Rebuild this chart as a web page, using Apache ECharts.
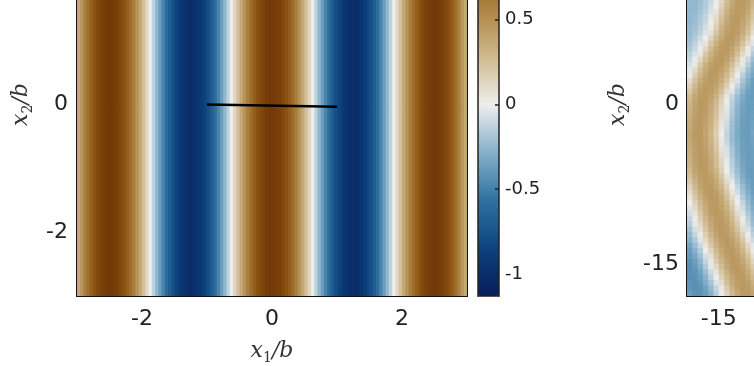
<!DOCTYPE html>
<html><head><meta charset="utf-8">
<script src="https://cdn.jsdelivr.net/npm/echarts@6/dist/echarts.min.js"></script>
<style>
html,body{margin:0;padding:0;width:754px;height:366px;overflow:hidden;background:#fff}
#c{position:absolute;left:0;top:-87px;width:754px;height:453px}
</style>
</head><body><div id="c"></div>
<script>
// ---------- data ----------
const leftCellWidth = 0.05;          // x1/b cell width of the left field
const leftXStart = -2.975;           // first cell centre
// row bands of the left field: [upper edge, lower edge] in x2/b
const leftBands = [[3, 0], [0, -3]];
const leftTopRow = [
 0.37,0.48,0.59,0.69,0.77,0.84,0.90,0.95,0.98,1.00,
 1.00,0.98,0.95,0.90,0.84,0.77,0.69,0.59,0.48,0.37,
 0.25,0.13,0.00,-0.13,-0.25,-0.37,-0.48,-0.59,-0.69,-0.77,
 -0.84,-0.90,-0.95,-0.98,-1.00,-1.00,-0.98,-0.95,-0.90,-0.84,
 -0.77,-0.69,-0.59,-0.48,-0.37,-0.25,-0.13,0.00,0.13,0.25,
 0.37,0.48,0.59,0.69,0.77,0.84,0.90,0.95,0.98,1.00,
 1.00,0.98,0.95,0.90,0.84,0.77,0.69,0.59,0.48,0.37,
 0.25,0.13,0.00,-0.13,-0.25,-0.37,-0.48,-0.59,-0.69,-0.77,
 -0.84,-0.90,-0.95,-0.98,-1.00,-1.00,-0.98,-0.95,-0.90,-0.84,
 -0.77,-0.69,-0.59,-0.48,-0.37,-0.25,-0.13,0.00,0.13,0.25,
 0.37,0.48,0.59,0.69,0.77,0.84,0.90,0.95,0.98,1.00,
 1.00,0.98,0.95,0.90,0.84,0.77,0.69,0.59,0.48,0.37
];
const leftBottomRow = [
 0.37,0.48,0.59,0.69,0.77,0.84,0.90,0.95,0.98,1.00,
 1.00,0.98,0.95,0.90,0.84,0.77,0.69,0.59,0.48,0.37,
 0.25,0.13,0.00,-0.13,-0.25,-0.37,-0.48,-0.59,-0.69,-0.77,
 -0.84,-0.90,-0.95,-0.98,-1.00,-1.00,-0.98,-0.95,-0.90,-0.84,
 -0.77,-0.69,-0.59,-0.48,-0.37,-0.25,-0.13,0.00,0.13,0.25,
 0.37,0.48,0.59,0.69,0.77,0.84,0.90,0.95,0.98,1.00,
 1.00,0.98,0.95,0.90,0.84,0.77,0.69,0.59,0.48,0.37,
 0.25,0.13,0.00,-0.13,-0.25,-0.37,-0.48,-0.59,-0.69,-0.77,
 -0.84,-0.90,-0.95,-0.98,-1.00,-1.00,-0.98,-0.95,-0.90,-0.84,
 -0.77,-0.69,-0.59,-0.48,-0.37,-0.25,-0.13,0.00,0.13,0.25,
 0.37,0.48,0.59,0.69,0.77,0.84,0.90,0.95,0.98,1.00,
 1.00,0.98,0.95,0.90,0.84,0.77,0.69,0.59,0.48,0.37
];
const crackLine = [[-1, 0.0], [1, -0.035]];

const rightCellSize = 0.5;
const rightXCenters = [-17.75,-17.25,-16.75,-16.25,-15.75,-15.25,-14.75,-14.25,-13.75,-13.25,-12.75,-12.25,-11.75];
const rightYCenters = [9.75,9.25,8.75,8.25,7.75,7.25,6.75,6.25,5.75,5.25,4.75,4.25,3.75,3.25,2.75,2.25,1.75,1.25,
  0.75,0.25,-0.25,-0.75,-1.25,-1.75,-2.25,-2.75,-3.25,-3.75,-4.25,-4.75,-5.25,-5.75,-6.25,-6.75,-7.25,-7.75,
  -8.25,-8.75,-9.25,-9.75,-10.25,-10.75,-11.25,-11.75,-12.25,-12.75,-13.25,-13.75,-14.25,-14.75,-15.25,-15.75,
  -16.25,-16.75,-17.25,-17.75];
const rightValues = [
 [-0.24,-0.25,-0.22,-0.17,-0.10,-0.02,0.12,0.26,0.37,0.43,0.45,0.41,0.32],
 [-0.25,-0.25,-0.21,-0.16,-0.08,0.01,0.16,0.29,0.39,0.44,0.44,0.39,0.29],
 [-0.25,-0.24,-0.20,-0.14,-0.06,0.05,0.20,0.32,0.41,0.45,0.43,0.37,0.25],
 [-0.25,-0.23,-0.18,-0.12,-0.03,0.09,0.24,0.35,0.43,0.45,0.42,0.34,0.22],
 [-0.25,-0.22,-0.17,-0.10,-0.01,0.13,0.27,0.38,0.44,0.45,0.40,0.31,0.18],
 [-0.24,-0.21,-0.15,-0.07,0.02,0.17,0.31,0.40,0.45,0.44,0.38,0.28,0.14],
 [-0.24,-0.19,-0.13,-0.05,0.07,0.21,0.34,0.42,0.45,0.43,0.36,0.24,0.10],
 [-0.22,-0.17,-0.09,-0.01,0.14,0.28,0.38,0.44,0.45,0.40,0.31,0.17,0.02],
 [-0.20,-0.13,-0.05,0.06,0.21,0.33,0.42,0.45,0.43,0.36,0.25,0.11,-0.04],
 [-0.17,-0.10,-0.01,0.13,0.27,0.38,0.44,0.45,0.40,0.31,0.18,0.03,-0.10],
 [-0.14,-0.06,0.05,0.20,0.32,0.41,0.45,0.43,0.37,0.25,0.11,-0.03,-0.16],
 [-0.10,-0.02,0.12,0.26,0.37,0.44,0.45,0.41,0.32,0.19,0.04,-0.10,-0.22],
 [-0.06,0.04,0.19,0.32,0.41,0.45,0.44,0.37,0.26,0.12,-0.03,-0.15,-0.27],
 [-0.03,0.11,0.25,0.36,0.43,0.45,0.41,0.33,0.20,0.06,-0.08,-0.21,-0.30],
 [0.02,0.17,0.30,0.40,0.45,0.44,0.38,0.28,0.15,-0.01,-0.14,-0.25,-0.33],
 [0.09,0.23,0.35,0.42,0.45,0.42,0.34,0.23,0.08,-0.06,-0.19,-0.29,-0.36],
 [0.15,0.28,0.39,0.44,0.44,0.40,0.30,0.17,0.02,-0.12,-0.23,-0.32,-0.37],
 [0.21,0.33,0.42,0.45,0.43,0.36,0.25,0.10,-0.04,-0.17,-0.27,-0.35,-0.38],
 [0.27,0.37,0.44,0.45,0.41,0.32,0.19,0.04,-0.10,-0.22,-0.31,-0.37,-0.38],
 [0.30,0.40,0.45,0.44,0.38,0.28,0.15,-0.01,-0.14,-0.25,-0.33,-0.37,-0.37],
 [0.32,0.41,0.45,0.44,0.37,0.26,0.12,-0.03,-0.15,-0.27,-0.34,-0.38,-0.37],
 [0.33,0.42,0.45,0.43,0.36,0.25,0.10,-0.04,-0.17,-0.27,-0.35,-0.38,-0.36],
 [0.35,0.42,0.45,0.42,0.34,0.23,0.08,-0.06,-0.19,-0.29,-0.36,-0.38,-0.36],
 [0.36,0.43,0.45,0.41,0.33,0.20,0.06,-0.08,-0.21,-0.30,-0.36,-0.38,-0.35],
 [0.37,0.44,0.45,0.40,0.31,0.18,0.04,-0.10,-0.22,-0.31,-0.37,-0.38,-0.35],
 [0.39,0.44,0.45,0.39,0.30,0.16,0.01,-0.12,-0.23,-0.32,-0.37,-0.38,-0.33],
 [0.38,0.44,0.45,0.40,0.31,0.18,0.03,-0.11,-0.23,-0.31,-0.37,-0.38,-0.35],
 [0.36,0.43,0.45,0.41,0.32,0.20,0.05,-0.09,-0.21,-0.30,-0.36,-0.38,-0.35],
 [0.35,0.42,0.45,0.42,0.34,0.22,0.07,-0.06,-0.19,-0.29,-0.36,-0.38,-0.36],
 [0.34,0.42,0.45,0.43,0.35,0.24,0.09,-0.05,-0.18,-0.28,-0.35,-0.38,-0.36],
 [0.32,0.41,0.45,0.44,0.37,0.26,0.12,-0.03,-0.15,-0.27,-0.34,-0.38,-0.37],
 [0.31,0.40,0.45,0.44,0.38,0.27,0.14,-0.01,-0.14,-0.25,-0.33,-0.37,-0.37],
 [0.29,0.39,0.44,0.45,0.39,0.30,0.16,0.01,-0.12,-0.23,-0.32,-0.37,-0.38],
 [0.24,0.36,0.43,0.45,0.42,0.33,0.21,0.06,-0.08,-0.20,-0.30,-0.36,-0.38],
 [0.20,0.32,0.41,0.45,0.43,0.37,0.25,0.11,-0.03,-0.16,-0.27,-0.34,-0.38],
 [0.15,0.29,0.39,0.44,0.45,0.39,0.30,0.16,0.01,-0.12,-0.23,-0.32,-0.37],
 [0.10,0.24,0.36,0.43,0.45,0.42,0.33,0.21,0.06,-0.08,-0.20,-0.30,-0.36],
 [0.05,0.20,0.32,0.41,0.45,0.43,0.37,0.25,0.11,-0.03,-0.16,-0.27,-0.34],
 [0.00,0.15,0.29,0.39,0.44,0.44,0.39,0.30,0.16,0.01,-0.12,-0.24,-0.32],
 [-0.04,0.11,0.25,0.36,0.43,0.45,0.41,0.33,0.20,0.06,-0.08,-0.21,-0.30],
 [-0.08,0.06,0.21,0.33,0.42,0.45,0.43,0.36,0.25,0.10,-0.04,-0.17,-0.27],
 [-0.12,0.02,0.17,0.30,0.40,0.44,0.44,0.39,0.28,0.15,-0.01,-0.13,-0.25],
 [-0.15,-0.03,0.12,0.26,0.37,0.44,0.45,0.41,0.32,0.19,0.04,-0.10,-0.22],
 [-0.20,-0.07,0.08,0.22,0.34,0.42,0.45,0.43,0.35,0.23,0.09,-0.06,-0.18],
 [-0.24,-0.12,0.02,0.17,0.30,0.40,0.45,0.44,0.38,0.28,0.15,-0.01,-0.14],
 [-0.28,-0.17,-0.04,0.11,0.25,0.36,0.43,0.45,0.41,0.33,0.20,0.05,-0.09],
 [-0.33,-0.23,-0.10,0.05,0.20,0.32,0.41,0.45,0.43,0.37,0.26,0.12,-0.03],
 [-0.37,-0.28,-0.16,-0.01,0.14,0.28,0.38,0.44,0.45,0.40,0.31,0.17,0.02],
 [-0.39,-0.32,-0.21,-0.07,0.08,0.23,0.35,0.42,0.45,0.42,0.35,0.23,0.08],
 [-0.42,-0.36,-0.26,-0.12,0.03,0.18,0.31,0.40,0.45,0.44,0.38,0.27,0.14],
 [-0.43,-0.39,-0.30,-0.17,-0.03,0.12,0.26,0.37,0.44,0.45,0.41,0.32,0.19],
 [-0.43,-0.41,-0.34,-0.22,-0.09,0.06,0.21,0.33,0.42,0.45,0.43,0.36,0.24],
 [-0.43,-0.42,-0.37,-0.27,-0.14,0.01,0.16,0.29,0.39,0.44,0.44,0.39,0.29],
 [-0.41,-0.43,-0.39,-0.31,-0.19,-0.05,0.10,0.25,0.36,0.43,0.45,0.42,0.33],
 [-0.40,-0.43,-0.41,-0.35,-0.24,-0.11,0.04,0.19,0.32,0.41,0.45,0.43,0.37],
 [-0.37,-0.42,-0.42,-0.37,-0.28,-0.15,-0.01,0.15,0.28,0.38,0.44,0.45,0.40]
];

const leftXTicks = [-2, 0, 2];
const leftYTicks = [-2, 0, 2];
const rightTicks = [-15, 0, 15];
const colorbarTicks = [-1, -0.5, 0, 0.5, 1];
const colorLimits = [-1.13, 1.13];
const colorStops = ['#071d59','#0d437f','#2f719f','#86b1cb','#eeeeec','#cfb98e','#ad8443','#8a500f','#5e2800'];

// ---------- build cells ----------
const leftRows = [leftTopRow, leftBottomRow];
const leftCells = [];
leftRows.forEach((row, b) => {
  row.forEach((v, i) => {
    const xc = leftXStart + i * leftCellWidth;
    leftCells.push([xc - leftCellWidth / 2, leftBands[b][1], v, xc + leftCellWidth / 2, leftBands[b][0]]);
  });
});
const rightCells = [];
rightYCenters.forEach((yc, r) => {
  rightXCenters.forEach((xc, c) => {
    rightCells.push([xc - rightCellSize / 2, yc - rightCellSize / 2, rightValues[r][c], xc + rightCellSize / 2, yc + rightCellSize / 2]);
  });
});

function cellItem(params, api) {
  const p0 = api.coord([api.value(0), api.value(4)]);
  const p1 = api.coord([api.value(3), api.value(1)]);
  return {
    type: 'rect',
    shape: { x: p0[0], y: p0[1], width: p1[0] - p0[0] + 0.7, height: p1[1] - p0[1] + 0.7 },
    style: { fill: api.visual('color') }
  };
}

const tickFont = { fontFamily: 'DejaVu Sans', fontSize: 22, color: '#222' };
const lineStyle = { color: '#111', width: 2 };
const nameRich = {
  i: { fontFamily: 'DejaVu Serif', fontStyle: 'italic', fontSize: 22, lineHeight: 28, verticalAlign: 'middle', color: '#333' },
  s: { fontFamily: 'DejaVu Serif', fontSize: 14, lineHeight: 14, verticalAlign: 'bottom', color: '#333' }
};
const tickStyle = { color: '#111', width: 2 };

function valAxis(extra) {
  return Object.assign({
    type: 'value',
    axisLine: { show: true, onZero: false, lineStyle: lineStyle },
    axisTick: { show: true, inside: true, length: 5, lineStyle: tickStyle },
    axisLabel: Object.assign({ margin: 10 }, tickFont),
    splitLine: { show: false }
  }, extra);
}

const chart = echarts.init(document.getElementById('c'), null, { renderer: 'canvas' });
chart.setOption({
  animation: false,
  backgroundColor: '#fff',
  grid: [
    { left: 77, top: 0, width: 390, height: 383, outerBoundsMode: 'none', containLabel: false },
    { left: 687, top: 0, width: 382, height: 383, outerBoundsMode: 'none', containLabel: false },
    { left: 478, top: 0, width: 21, height: 383, outerBoundsMode: 'none', containLabel: false }
  ],
  xAxis: [
    valAxis({ gridIndex: 0, min: -3, max: 3, position: 'bottom',
      axisTick: { show: true, inside: true, length: 5, customValues: leftXTicks, lineStyle: tickStyle },
      axisLabel: Object.assign({ margin: 12, customValues: leftXTicks }, tickFont),
      name: '{i|x}{s|1}{i|/b}', nameLocation: 'middle', nameGap: 41,
      nameTextStyle: { rich: nameRich } }),
    valAxis({ gridIndex: 1, min: -18, max: 18, position: 'bottom',
      axisTick: { show: true, inside: true, length: 5, customValues: rightTicks, lineStyle: tickStyle },
      axisLabel: Object.assign({ margin: 12, customValues: rightTicks }, tickFont) }),
    { type: 'value', gridIndex: 2, min: 0, max: 1, show: true, z: 6,
      axisLine: { show: true, onZero: false, lineStyle: { color: '#222', width: 1.5 } }, axisTick: { show: false }, axisLabel: { show: false }, splitLine: { show: false } }
  ],
  yAxis: [
    valAxis({ gridIndex: 0, min: -3, max: 3, position: 'left',
      axisTick: { show: true, inside: true, length: 5, customValues: leftYTicks, lineStyle: tickStyle },
      axisLabel: Object.assign({ margin: 9, customValues: leftYTicks }, tickFont),
      name: '{i|x}{s|2}{i|/b}', nameLocation: 'middle', nameGap: 35, nameRotate: 90,
      nameTextStyle: { rich: nameRich } }),
    valAxis({ gridIndex: 0, min: -3, max: 3, position: 'right',
      axisTick: { show: true, inside: true, length: 5, customValues: leftYTicks, lineStyle: tickStyle },
      axisLabel: { show: false } }),
    valAxis({ gridIndex: 1, min: -18, max: 18, position: 'left',
      axisTick: { show: true, inside: true, length: 5, customValues: rightTicks, lineStyle: tickStyle },
      axisLabel: Object.assign({ margin: 8, customValues: rightTicks }, tickFont),
      name: '{i|x}{s|2}{i|/b}', nameLocation: 'middle', nameGap: 55, nameRotate: 90,
      nameTextStyle: { rich: nameRich } }),
    { type: 'value', gridIndex: 2, min: colorLimits[0], max: colorLimits[1], position: 'right', z: 6,
      axisLine: { show: true, onZero: false, lineStyle: { color: '#222', width: 1.5 } },
      axisTick: { show: true, inside: true, length: 4, customValues: colorbarTicks, lineStyle: { color: '#222', width: 1.5 } },
      axisLabel: { show: true, margin: 6, customValues: colorbarTicks, fontFamily: 'DejaVu Sans', fontSize: 18, color: '#222' },
      splitLine: { show: false } },
    { type: 'value', gridIndex: 2, min: colorLimits[0], max: colorLimits[1], position: 'left', z: 6,
      axisLine: { show: true, onZero: false, lineStyle: { color: '#222', width: 1.5 } },
      axisTick: { show: false }, axisLabel: { show: false }, splitLine: { show: false } }
  ],
  visualMap: {
    type: 'continuous', min: colorLimits[0], max: colorLimits[1], dimension: 2, seriesIndex: [0, 1],
    calculable: false, realtime: false, hoverLink: false,
    inRange: { color: colorStops },
    orient: 'vertical', left: 478, top: 0, itemWidth: 21, itemHeight: 383,
    padding: 0, text: null, z: 1, show: true
  },
  series: [
    { type: 'custom', xAxisIndex: 0, yAxisIndex: 0, renderItem: cellItem, data: leftCells, clip: true, silent: true, z: 1 },
    { type: 'custom', xAxisIndex: 1, yAxisIndex: 2, renderItem: cellItem, data: rightCells, clip: true, silent: true, z: 1 },
    { type: 'line', xAxisIndex: 0, yAxisIndex: 0, data: crackLine, symbol: 'none', z: 5,
      lineStyle: { color: '#000', width: 2.5 }, silent: true }
  ]
});
</script>
</body></html>
